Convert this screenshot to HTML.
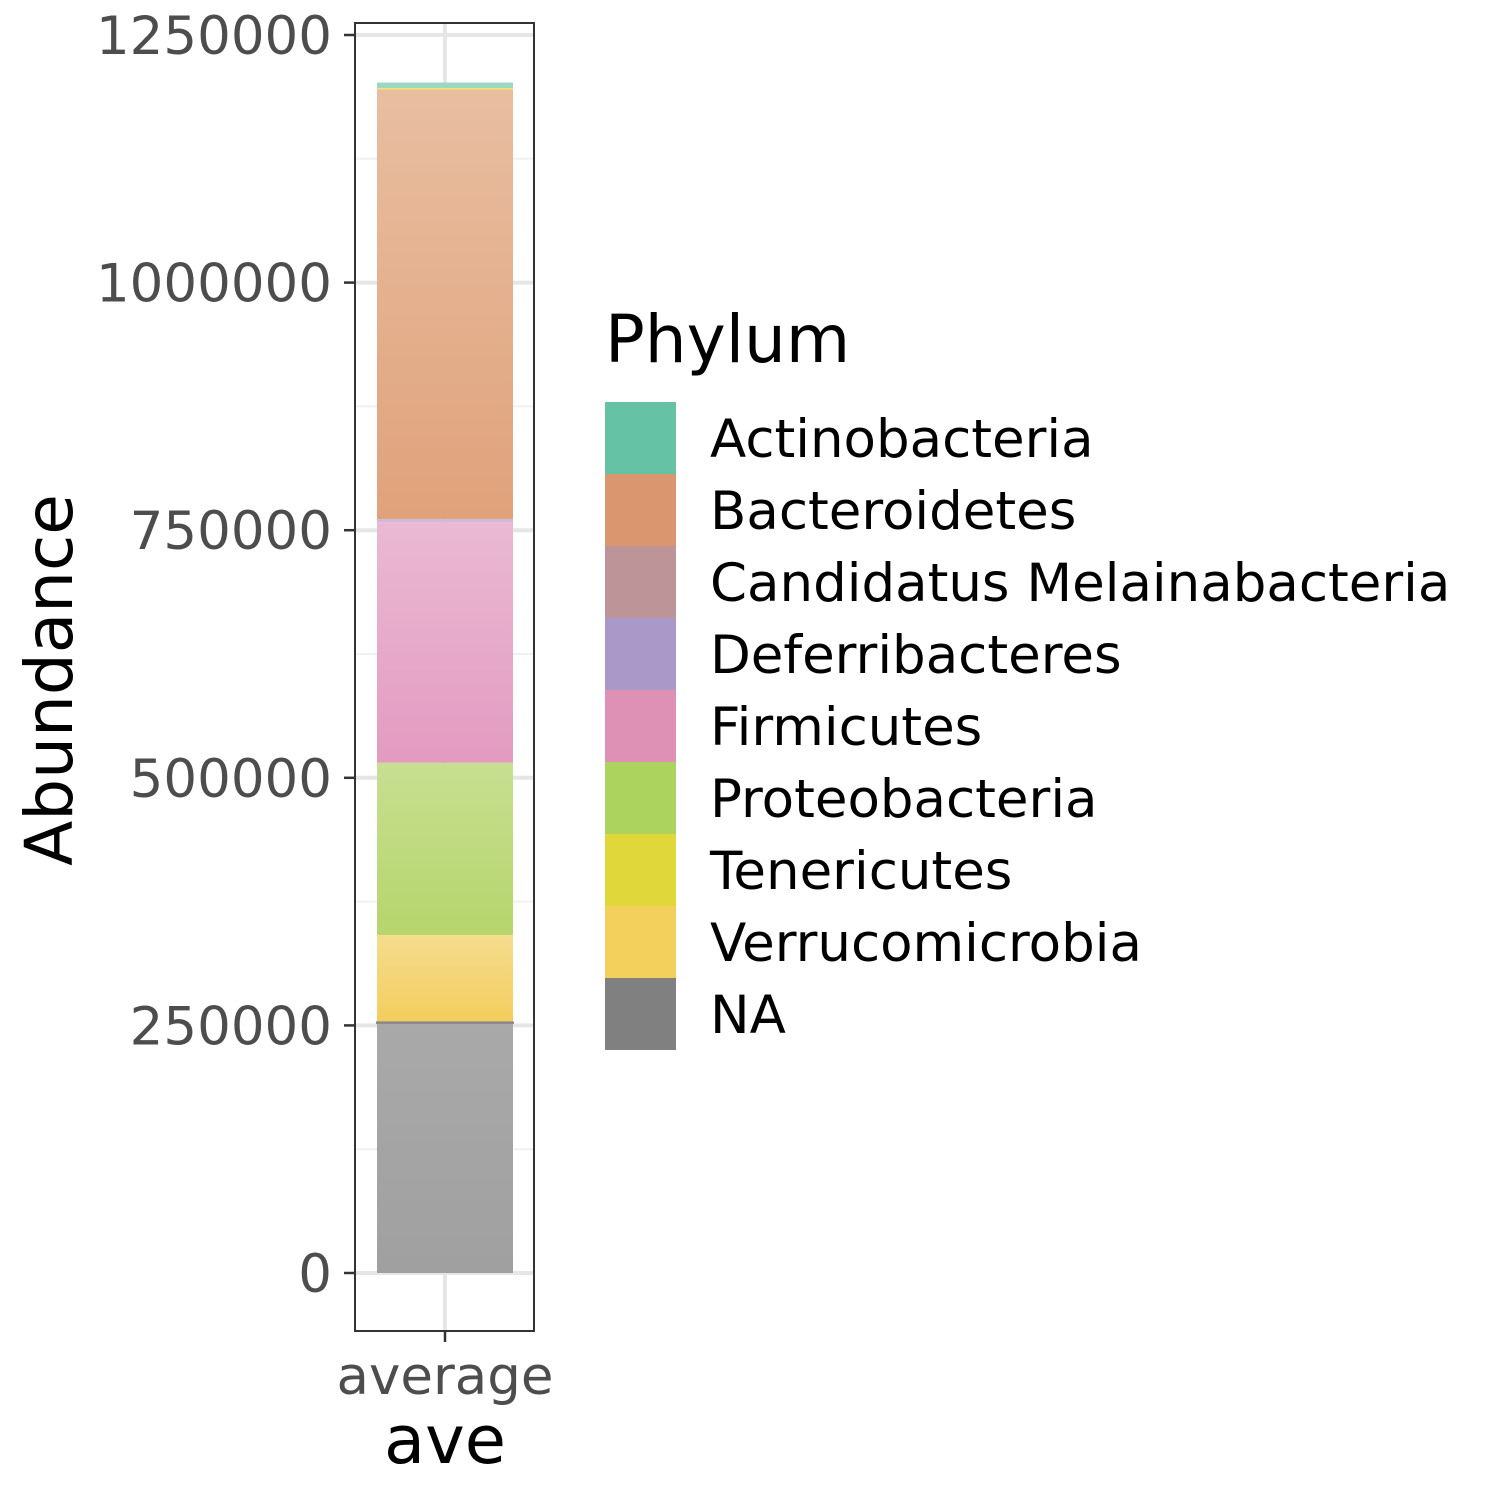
<!DOCTYPE html>
<html><head><meta charset="utf-8"><style>
body{margin:0;background:#fff;}
svg text{font-family:"DejaVu Sans","Liberation Sans",sans-serif;}
</style></head><body>
<svg id="chart" width="1500" height="1500" xmlns="http://www.w3.org/2000/svg">
<rect width="1500" height="1500" fill="#fff"/>
<g id="grid"></g>
<g id="bars"></g>
<rect x="355" y="23" width="179" height="1308" fill="none" stroke="#333" stroke-width="2"/>
<g id="yaxis"></g>
<line x1="445" y1="1331" x2="445" y2="1342" stroke="#333" stroke-width="2.5"/>
<text x="445" y="1394" font-size="53" fill="#4d4d4d" text-anchor="middle">average</text>
<text x="445" y="1463" font-size="67" fill="#000" text-anchor="middle">ave</text>
<text transform="translate(72,680) rotate(-90)" font-size="66" fill="#000" text-anchor="middle">Abundance</text>
<g id="legend">
<text x="605" y="362" font-size="66" fill="#000">Phylum</text>
</g>
</svg>
<script>
const phyla=["Actinobacteria","Bacteroidetes","Candidatus Melainabacteria","Deferribacteres","Firmicutes","Proteobacteria","Tenericutes","Verrucomicrobia","NA"];
const legendColors=["#66c2a5","#d9966f","#bd9598","#a998c8","#df90b5","#add35f","#e0d83a","#f3cf5c","#808080"];
// stacked segments bottom to top
const segNames=["NA","Verrucomicrobia","Proteobacteria","Firmicutes","Deferribacteres","Bacteroidetes","Verrucomicrobia","Tenericutes","Actinobacteria"];
const segValues=[252800,88500,173900,242800,3000,433500,1000,1000,5500];
const segTop=["#a9a9a9","#f5dd8e","#c7df91","#eab9d3","#cdb8e0","#e8bea1","#f6cf7a","#f0e27a","#9bd8c2"];
const segBottom=["#a0a0a0","#f3cd5d","#b6d56c","#e39bc0","#cdb8e0","#e0a27b","#f6cf7a","#f0e27a","#9bd8c2"];
const yTicks=[0,250000,500000,750000,1000000,1250000];
const yTickLabels=["0","250000","500000","750000","1000000","1250000"];
const ns="http://www.w3.org/2000/svg";
const y=v=>1273-v*247.6/250000;
const svg=document.getElementById('chart');
const defs=document.createElementNS(ns,'defs');svg.insertBefore(defs,svg.firstChild);
const grid=document.getElementById('grid');
function line(g,x1,y1,x2,y2,c,w){const l=document.createElementNS(ns,'line');l.setAttribute('x1',x1);l.setAttribute('y1',y1);l.setAttribute('x2',x2);l.setAttribute('y2',y2);l.setAttribute('stroke',c);l.setAttribute('stroke-width',w);g.appendChild(l);return l;}
for(let i=0;i<yTicks.length-1;i++){line(grid,355,y((yTicks[i]+yTicks[i+1])/2),534,y((yTicks[i]+yTicks[i+1])/2),"#f0f0f0",2);}
yTicks.forEach(t=>line(grid,355,y(t),534,y(t),"#e6e6e6",4));
line(grid,445,23,445,1331,"#e6e6e6",4);
const bars=document.getElementById('bars');
let cum=0;
segValues.forEach((v,i)=>{
 const g=document.createElementNS(ns,'linearGradient');g.setAttribute('id','g'+i);g.setAttribute('x1','0');g.setAttribute('y1','0');g.setAttribute('x2','0');g.setAttribute('y2','1');
 g.innerHTML='<stop offset="0" stop-color="'+segTop[i]+'"/><stop offset="1" stop-color="'+segBottom[i]+'"/>';defs.appendChild(g);
 const r=document.createElementNS(ns,'rect');
 
 
 r.setAttribute('x',377);r.setAttribute('width',136);r.setAttribute('y',y(cum+v));r.setAttribute('height',y(cum)-y(cum+v));
 r.setAttribute('fill','url(#g'+i+')');bars.appendChild(r);cum+=v;
});
line(bars,376,y(segValues[0]),514,y(segValues[0]),"#888",2.5);
const ya=document.getElementById('yaxis');
yTicks.forEach((t,i)=>{line(ya,344,y(t),355,y(t),"#333",2.5);
 const tx=document.createElementNS(ns,'text');
 
 
 tx.setAttribute('x',332);tx.setAttribute('y',y(t)+19);tx.setAttribute('font-size','53');tx.setAttribute('fill','#4d4d4d');tx.setAttribute('text-anchor','end');tx.textContent=yTickLabels[i];ya.appendChild(tx);});
const lg=document.getElementById('legend');
phyla.forEach((p,i)=>{
 const r=document.createElementNS(ns,'rect');
 
 
 r.setAttribute('x',605);r.setAttribute('y',402+i*72);r.setAttribute('width',71);r.setAttribute('height',72);r.setAttribute('fill',legendColors[i]);lg.appendChild(r);
 const tx=document.createElementNS(ns,'text');
 
 
 tx.setAttribute('x',710);tx.setAttribute('y',438+i*72+19);tx.setAttribute('font-size','53');tx.setAttribute('fill','#000');tx.textContent=p;lg.appendChild(tx);
});
</script>
</body></html>
